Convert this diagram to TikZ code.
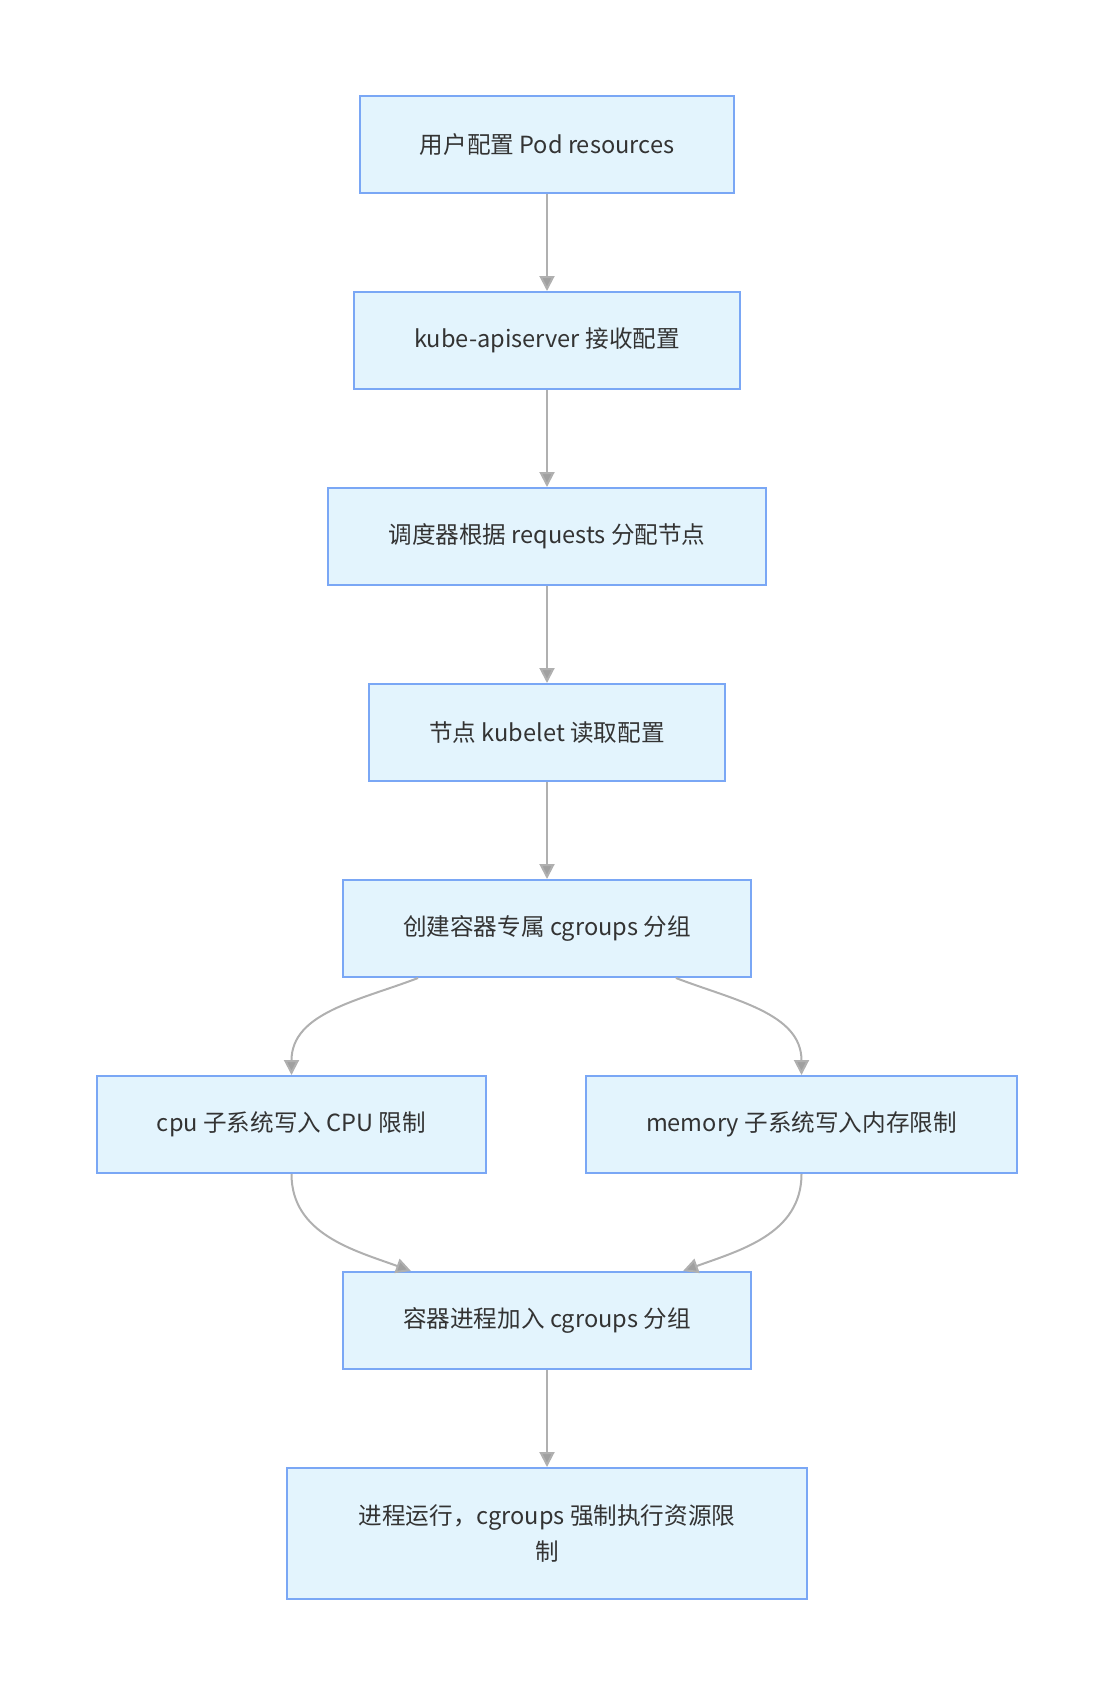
\documentclass[tikz,border=0pt]{standalone}
\usepackage{fontspec}
\setmainfont{Noto Sans CJK SC}
\usepackage{tikz}
\usetikzlibrary{positioning, arrows.meta, calc}
\definecolor{boxfill}{RGB}{227,244,253}
\definecolor{boxline}{RGB}{122,167,245}
\definecolor{edgeline}{RGB}{176,176,176}
\definecolor{tipfill}{RGB}{160,160,160}
\definecolor{txt}{RGB}{51,51,51}
\tikzstyle{proc}=[%
      rectangle, draw=boxline, line width=1pt, fill=boxfill, text=txt,
      font=\fontsize{11.8pt}{18pt}\selectfont,
      minimum height=48.5pt, inner xsep=30pt, inner ysep=0pt, align=center
]

\begin{document}
\begin{tikzpicture}[x=0.5pt, y=0.5pt, node distance=48.5pt,
    ->,
    -{Triangle[length=7.5pt,width=7.5pt,fill=tipfill]},
    edgeline, line width=1pt
  ]
    \useasboundingbox (0,0) rectangle (1113,-1696);

    \node[proc] (user)    at (547,-144.5)    {用户配置 Pod resources};
    \node[proc] (api)     [below = of user]   {kube-apiserver 接收配置};
    \node[proc] (sched)   [below = of api]    {调度器根据 requests 分配节点};
    \node[proc] (kubelet) [below = of sched]  {节点 kubelet 读取配置};
    \node[proc] (create)  [below = of kubelet] {创建容器专属 cgroups 分组};
    \node[proc] (cpu)     [below = of create, xshift=-127.75pt] {cpu 子系统写入 CPU 限制};
    \node[proc] (memory)  [below = of create, xshift=127.25pt]  {memory 子系统写入内存限制};
    \node[proc] (merge)   [below = of cpu, xshift=127.75pt]     {容器进程加入 cgroups 分组};
    \node[proc, minimum width=260pt, minimum height=65.5pt] (run) [below = of merge]
          {进程运行，cgroups 强制执行资源限\\制};

    \path (user) edge (api)
          (api) edge (sched)
          (sched) edge (kubelet)
          (kubelet) edge (create)
          (create) edge[out=201, in=90] (cpu)
          (create) edge[out=-21, in=90] (memory)
          (cpu) edge[out=-90, in=160] (merge)
          (memory) edge[out=-90, in=20] (merge)
          (merge) edge (run)
    ;

  \end{tikzpicture}
\end{document}
